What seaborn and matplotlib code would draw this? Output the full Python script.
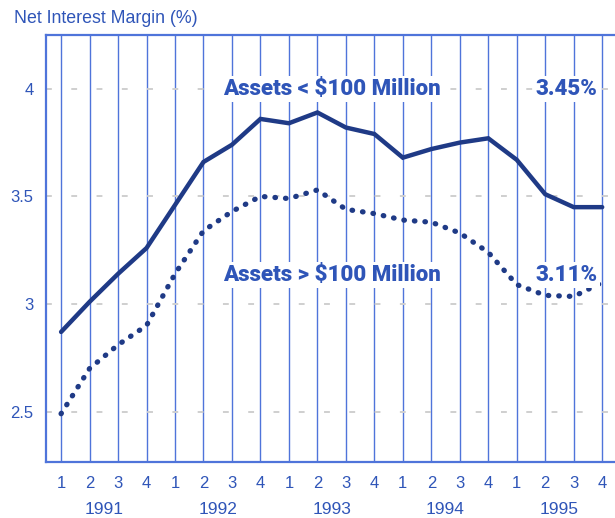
import pandas as pd
import numpy as np
import matplotlib
matplotlib.use("Agg")
import matplotlib.pyplot as plt
import seaborn as sns

# Quarterly net interest margin, 1991Q1 - 1995Q4
years = ["1991", "1992", "1993", "1994", "1995"]
quarter_labels = ["1", "2", "3", "4"] * 5
small_banks = [2.87, 3.01, 3.14, 3.26, 3.46, 3.66, 3.74, 3.86, 3.84, 3.89,
               3.82, 3.79, 3.68, 3.72, 3.75, 3.77, 3.67, 3.51, 3.45, 3.45]
large_banks = [2.49, 2.70, 2.81, 2.90, 3.14, 3.34, 3.43, 3.50, 3.49, 3.53,
               3.44, 3.42, 3.39, 3.38, 3.33, 3.24, 3.09, 3.04, 3.035, 3.10]
y_ticks = [2.5, 3, 3.5, 4]

sns.set_style("white")
plt.rcParams['font.family'] = ['Liberation Sans', 'DejaVu Sans']

blue_text = '#2f55b8'
line_col = '#1f3a86'
grid_col = '#4f74da'

df = pd.DataFrame({
    'q': np.arange(len(small_banks)),
    'small': small_banks,
    'large': large_banks,
})

fig = plt.figure(figsize=(6.15, 5.18), dpi=100)
ax = fig.add_axes([0.0748, 0.1087, 0.9252, 0.8237])

# vertical quarter grid
for q in df['q']:
    ax.axvline(q, color=grid_col, lw=1.0, zorder=1)
# horizontal sparse dashed grid
for yv in y_ticks:
    ax.axhline(yv, color='#cfcfcf', lw=1.4, ls=(0, (3, 10)), zorder=1)

sns.lineplot(data=df, x='q', y='small', ax=ax, color=line_col, lw=3.2,
             solid_joinstyle='miter', zorder=3)
sns.lineplot(data=df, x='q', y='large', ax=ax, color=line_col, lw=3.8,
             dash_capstyle='round', zorder=3).lines[-1].set_linestyle((0, (0.1, 1.9)))

ax.set_xlim(-0.53, 19.45)
ax.set_ylim(2.267, 4.25)
ax.set_yticks(y_ticks)
ax.set_yticklabels(['2.5', '3', '3.5', '4'])
ax.set_xticks(df['q'])
ax.set_xticklabels(quarter_labels)
ax.tick_params(axis='both', length=0, labelsize=12, labelcolor=blue_text)
ax.tick_params(axis='x', pad=10)
ax.tick_params(axis='y', pad=9)
ax.set_xlabel('')
ax.set_ylabel('')

for side in ['left', 'top', 'bottom']:
    ax.spines[side].set_color(grid_col)
    ax.spines[side].set_linewidth(1.6)
ax.spines['right'].set_visible(False)

# year labels under each group of quarters
for i, yr in enumerate(years):
    ax.text(i * 4 + 1.5, -0.112, yr, transform=ax.get_xaxis_transform(),
            ha='center', va='center', fontsize=12.5, color=blue_text)

box = dict(facecolor='white', edgecolor='none', pad=1.5)
label_font = dict(family=['Roboto', 'Liberation Sans'], weight=900, size=16,
                  color=blue_text)
ax.text(9.5, 4.0, 'Assets < $100 Million', ha='center', va='center',
        bbox=box, zorder=4, **label_font)
ax.text(17.75, 4.0, '3.45%', ha='center', va='center',
        bbox=box, zorder=4, **label_font)
ax.text(9.5, 3.135, 'Assets > $100 Million', ha='center', va='center',
        bbox=box, zorder=4, **label_font)
ax.text(17.75, 3.135, '3.11%', ha='center', va='center',
        bbox=box, zorder=4, **label_font)

fig.text(0.023, 0.965, 'Net Interest Margin (%)', ha='left', va='center',
         fontsize=12.8, color=blue_text)

fig.savefig('out.png', dpi=100)
